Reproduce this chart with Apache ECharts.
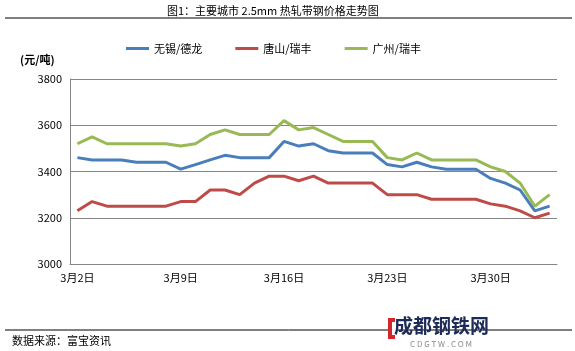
<!DOCTYPE html>
<html>
<head>
<meta charset="utf-8">
<script src="https://cdn.jsdelivr.net/npm/echarts@6/dist/echarts.min.js"></script>
<style>
html, body { margin: 0; padding: 0; background: #fff; }
#main { width: 575px; height: 351px; }
</style>
</head>
<body>
<div id="main"></div>
<script>
var dates = ['3月2日', '3月3日', '3月4日', '3月5日', '3月6日', '3月7日', '3月8日',
	'3月9日', '3月10日', '3月11日', '3月12日', '3月13日', '3月14日', '3月15日',
	'3月16日', '3月17日', '3月18日', '3月19日', '3月20日', '3月21日', '3月22日',
	'3月23日', '3月24日', '3月25日', '3月26日', '3月27日', '3月28日', '3月29日',
	'3月30日', '3月31日', '4月1日', '4月2日', '4月3日'];

// 无锡/德龙
var wuxi = [3460, 3450, 3450, 3450, 3440, 3440, 3440, 3410, 3430, 3450, 3470, 3460, 3460, 3460,
	3530, 3510, 3520, 3490, 3480, 3480, 3480, 3430, 3420, 3440, 3420, 3410, 3410, 3410,
	3370, 3350, 3320, 3230, 3250];
// 唐山/瑞丰
var tangshan = [3230, 3270, 3250, 3250, 3250, 3250, 3250, 3270, 3270, 3320, 3320, 3300, 3350, 3380,
	3380, 3360, 3380, 3350, 3350, 3350, 3350, 3300, 3300, 3300, 3280, 3280, 3280, 3280,
	3260, 3250, 3230, 3200, 3220];
// 广州/瑞丰
var guangzhou = [3520, 3550, 3520, 3520, 3520, 3520, 3520, 3510, 3520, 3560, 3580, 3560, 3560, 3560,
	3620, 3580, 3590, 3560, 3530, 3530, 3530, 3460, 3450, 3480, 3450, 3450, 3450, 3450,
	3420, 3400, 3350, 3250, 3300];

var seriesNames = ['无锡/德龙', '唐山/瑞丰', '广州/瑞丰'];
var seriesColors = ['#4a7ebb', '#be4b48', '#98b954'];

var font = '"Noto Sans CJK SC", "Noto Sans", sans-serif';

var myChart = echarts.init(document.getElementById('main'));

var option = {
	animation: false,
	textStyle: { fontFamily: font, color: '#000' },
	title: {
		text: '图1：主要城市 2.5mm 热轧带钢价格走势图',
		left: 162,
		top: 0,
		textStyle: { fontSize: 11, fontWeight: 'normal', color: '#000', fontFamily: font }
	},
	legend: {
		left: 121,
		top: 38,
		icon: 'rect',
		itemWidth: 23,
		itemHeight: 3,
		itemGap: 33,
		textStyle: { fontSize: 11, color: '#000', fontFamily: font },
		data: seriesNames
	},
	grid: {
		left: 70,
		right: 18,
		top: 79,
		bottom: 87
	},
	xAxis: {
		type: 'category',
		boundaryGap: true,
		data: dates,
		axisLine: { lineStyle: { color: '#868686', width: 1 } },
		axisTick: { interval: 6, inside: true, length: 4, lineStyle: { color: '#868686' } },
		axisLabel: { interval: 6, fontSize: 11, color: '#000', margin: 8 }
	},
	yAxis: {
		type: 'value',
		min: 3000,
		max: 3800,
		interval: 200,
		axisLine: { show: true, lineStyle: { color: '#868686', width: 1 } },
		axisTick: { show: false },
		axisLabel: {
			fontSize: 11, color: '#000', margin: 8,
			formatter: function (v) { return String(v); }
		},
		splitLine: { lineStyle: { color: '#868686', width: 1 } }
	},
	graphic: [
		{ type: 'line', shape: { x1: 5, y1: 18, x2: 572, y2: 18 }, style: { stroke: '#000', lineWidth: 1 } },
		{ type: 'text', left: 20, top: 54, style: { text: '(元/吨)', font: 'bold 11px ' + font, fill: '#000' } },
		{ type: 'line', shape: { x1: 5, y1: 330, x2: 572, y2: 330 }, style: { stroke: '#000', lineWidth: 1 } },
		{ type: 'text', left: 12, top: 335, style: { text: '数据来源：富宝资讯', font: '11px ' + font, fill: '#000' } },
		{ type: 'rect', shape: { x: 388, y: 318, width: 7, height: 21 }, style: { fill: '#d6262b' } },
		{ type: 'rect', shape: { x: 392, y: 322, width: 4, height: 13 }, style: { fill: '#fff' } },
		{ type: 'text', left: 394, top: 316, style: { text: '成都钢铁网', font: 'bold 19px ' + font, fill: '#1d2b58' } },
		{ type: 'text', left: 410, top: 340, style: { text: 'C D G T W . C O M', font: '8px ' + font, fill: '#8a8a8a' } }
	],
	series: [
		{
			name: seriesNames[0],
			type: 'line',
			data: wuxi,
			showSymbol: false,
			lineStyle: { width: 3, color: seriesColors[0] },
			itemStyle: { color: seriesColors[0] }
		},
		{
			name: seriesNames[1],
			type: 'line',
			data: tangshan,
			showSymbol: false,
			lineStyle: { width: 3, color: seriesColors[1] },
			itemStyle: { color: seriesColors[1] }
		},
		{
			name: seriesNames[2],
			type: 'line',
			data: guangzhou,
			showSymbol: false,
			lineStyle: { width: 3, color: seriesColors[2] },
			itemStyle: { color: seriesColors[2] }
		}
	]
};

myChart.setOption(option);
</script>
</body>
</html>
